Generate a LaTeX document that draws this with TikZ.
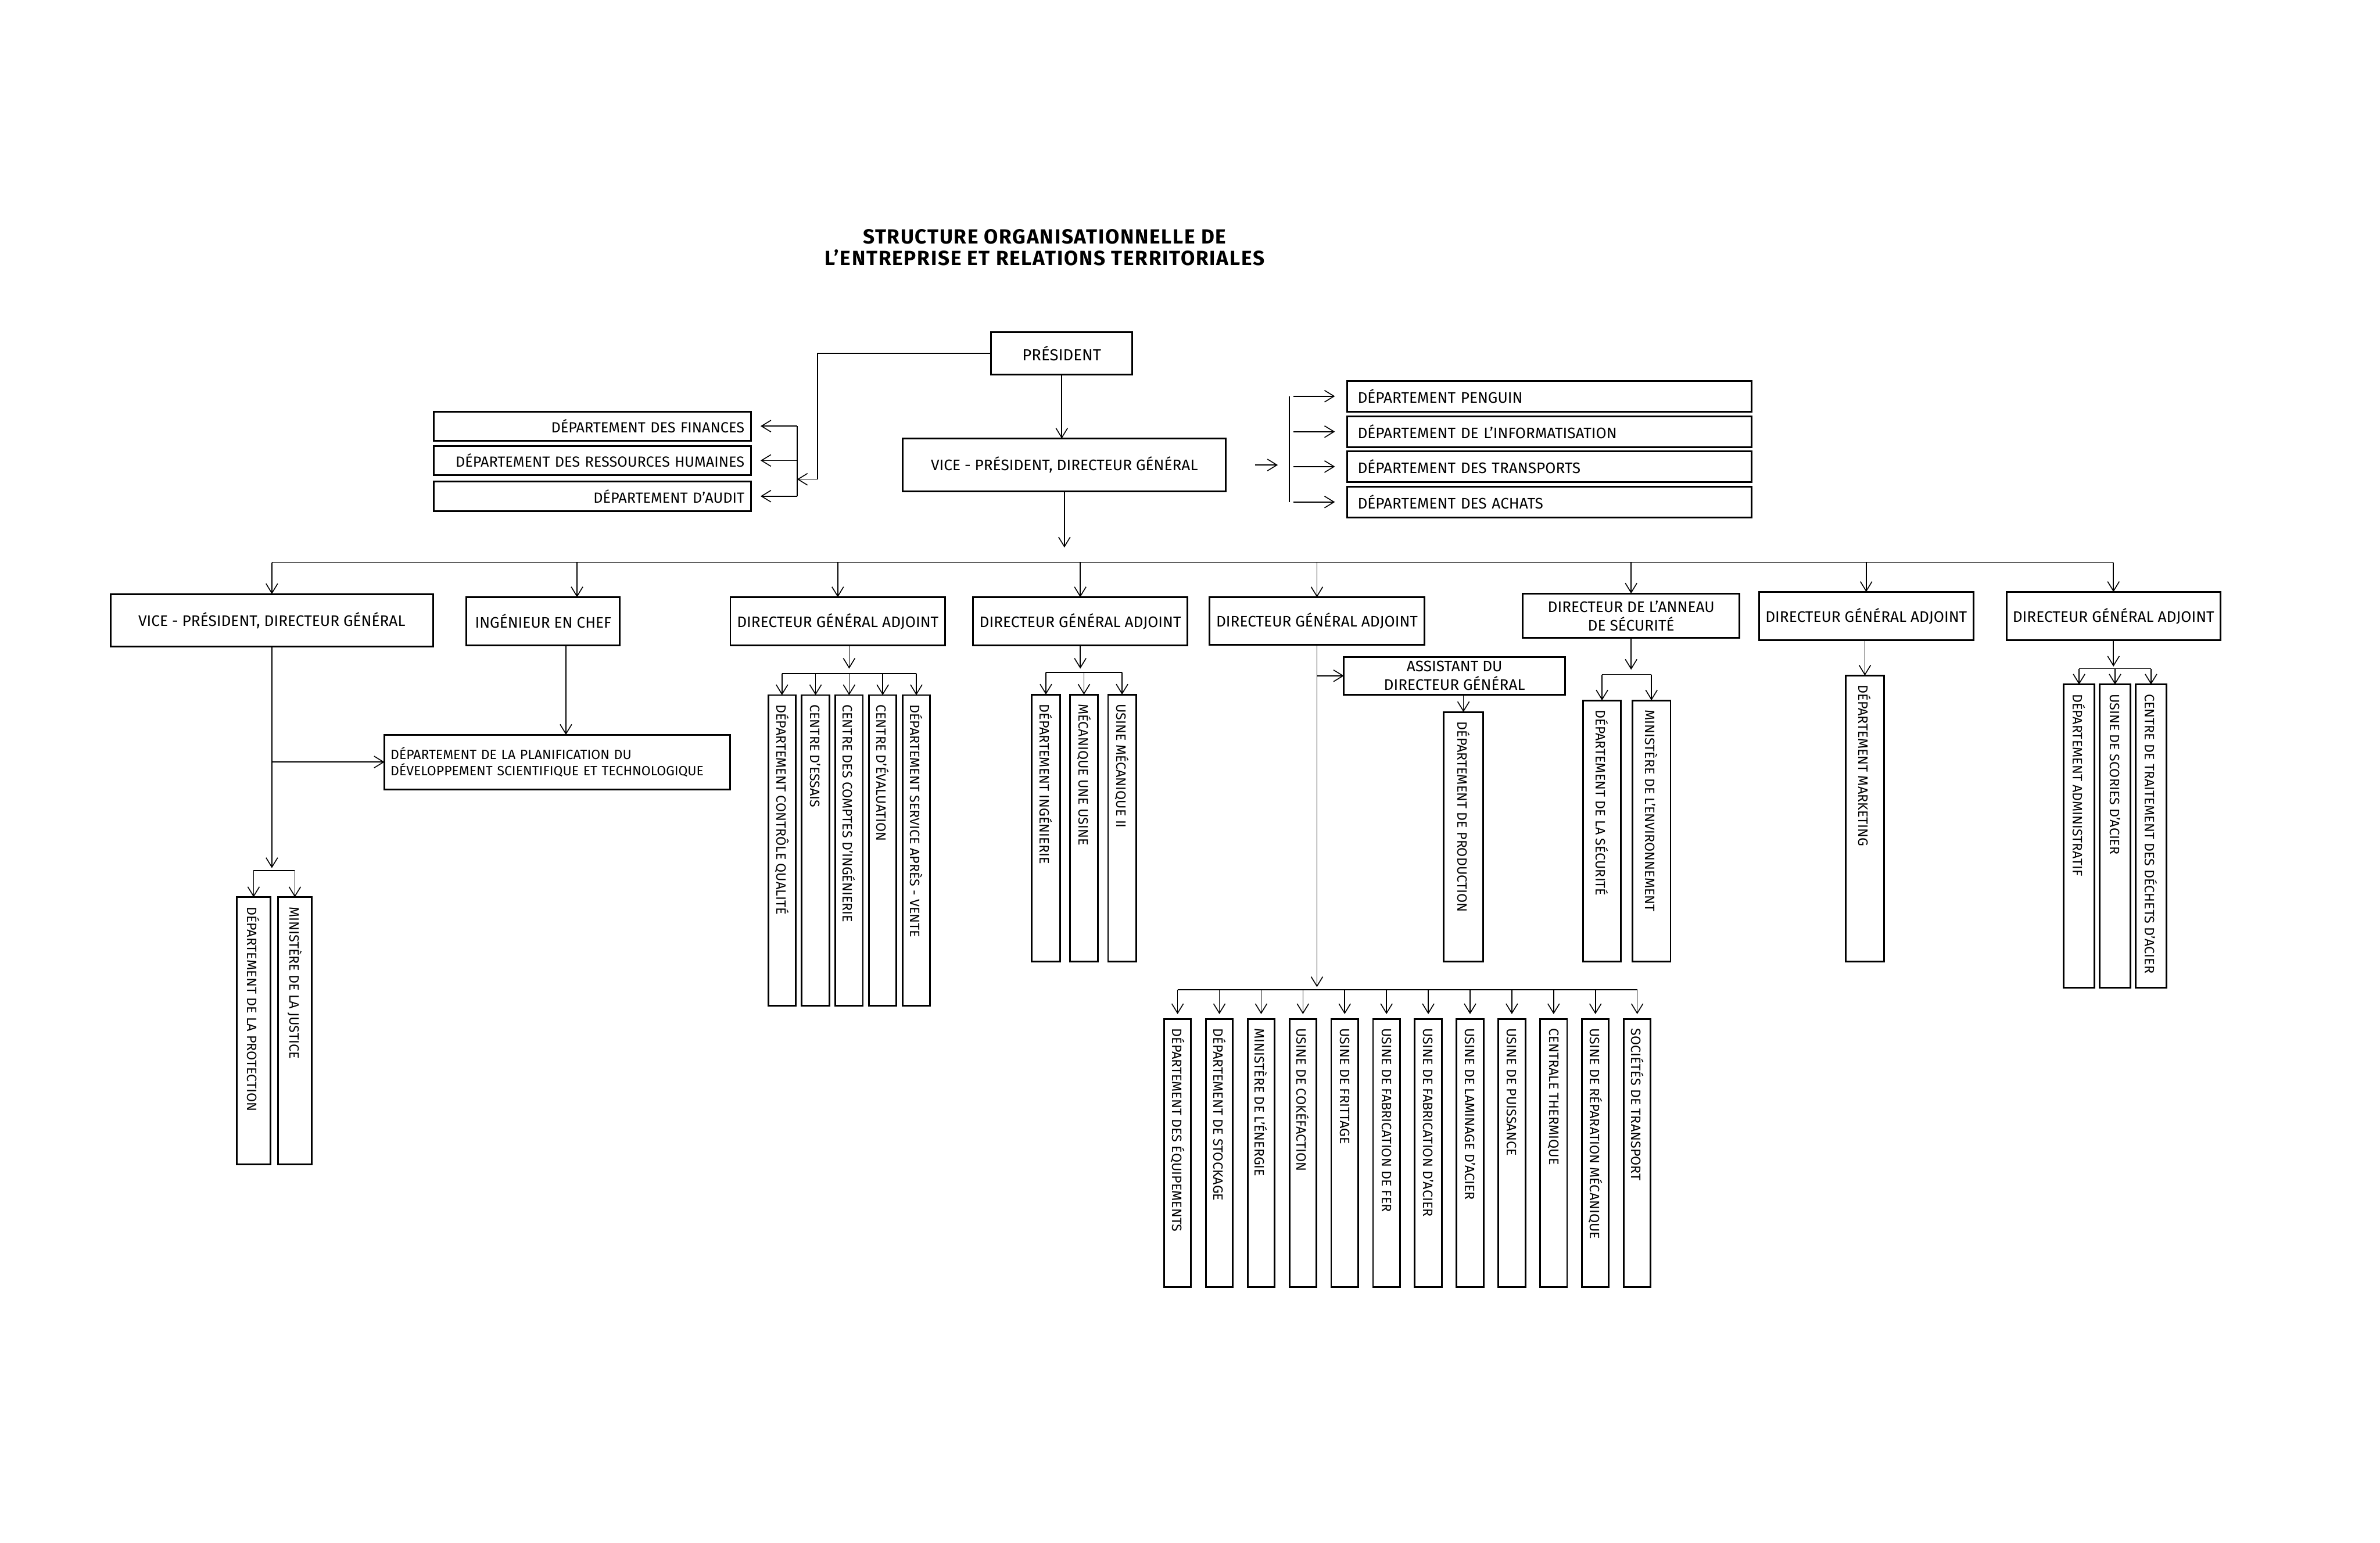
\documentclass[tikz,border=0pt]{standalone}
\usepackage{fontspec}
\setmainfont{Fira Sans}
\usepackage{graphicx}
\usetikzlibrary{arrows.meta, positioning, calc}
\tikzset{
  box/.style={rectangle, draw=black, line width=0.9pt, fill=white, inner sep=0pt, outer sep=0pt,
              align=center, font=\fontsize{8.2}{10}\selectfont},
  chief/.style={box, minimum width=#1, minimum height=0.91cm},
  chief/.default=4.06cm,
  ldept/.style={box, minimum height=#1, text width=5.75cm, inner xsep=0.125cm,
                align=right, font=\fontsize{7.9}{9.5}\selectfont},
  ldept/.default=0.55cm,
  rdept/.style={box, minimum height=0.58cm, text width=7.25cm, inner xsep=0.2cm, align=left},
  vbox/.style={rectangle, draw=black, line width=0.9pt, fill=white, inner xsep=0pt,
               inner ysep=0.18cm, outer sep=0pt, minimum width=#1, anchor=north,
               font=\fontsize{7.3}{8.5}\selectfont},
  vbox/.default=0.52cm,
  arrow/.style={-{Straight Barb[length=1.8mm, width=2.2mm]}, line width=0.5pt},
  link/.style={line width=0.5pt},
}
\newcommand{\vtext}[2]{\rotatebox{-90}{\makebox[#1][l]{#2}}}

\begin{document}
\begin{tikzpicture}
\useasboundingbox (0,0) rectangle (45,-29.16);

% ── Title ─────────────────────────────────────────────────────────────────────
\node[font=\fontsize{11}{11.4}\selectfont\bfseries\addfontfeatures{LetterSpace=5}, align=center]
  (title) at (19.75,-4.68)
  {STRUCTURE ORGANISATIONNELLE DE\\L'ENTREPRISE ET RELATIONS TERRITORIALES};

% ── Top: president and vice-president ─────────────────────────────────────────
\node[box, minimum width=2.67cm, minimum height=0.80cm, font=\fontsize{8.6}{10}\selectfont]
  (pres) at (20.075,-6.68) {PRÉSIDENT};
\node[box, minimum width=6.11cm, minimum height=1.00cm] (vp) at (20.125,-8.79)
  {VICE - PRÉSIDENT, DIRECTEUR GÉNÉRAL};

% ── Departments left of the president ─────────────────────────────────────────
\node[ldept] (fin) at (11.20,-8.055) {DÉPARTEMENT DES FINANCES};
\node[ldept, below=0.10cm of fin] (rh) {DÉPARTEMENT DES RESSOURCES HUMAINES};
\node[ldept=0.56cm, below=0.12cm of rh] (aud) {DÉPARTEMENT D'AUDIT};

% ── Departments right of the vice-president ───────────────────────────────────
\node[rdept] (peng) at (29.295,-7.49) {DÉPARTEMENT PENGUIN};
\node[rdept, below=0.09cm of peng] (info) {DÉPARTEMENT DE L'INFORMATISATION};
\node[rdept, below=0.08cm of info] (trans) {DÉPARTEMENT DES TRANSPORTS};
\node[rdept, below=0.09cm of trans] (ach) {DÉPARTEMENT DES ACHATS};

% ── Second level ──────────────────────────────────────────────────────────────
\node[chief=6.10cm, minimum height=0.99cm] (vp2) at (5.14,-11.725)
  {VICE - PRÉSIDENT, DIRECTEUR GÉNÉRAL};
\node[chief=2.90cm] (ing) at (10.27,-11.745) {INGÉNIEUR EN CHEF};
\node[chief] (dga1) at (15.84,-11.745) {DIRECTEUR GÉNÉRAL ADJOINT};
\node[chief=4.05cm] (dga2) at (20.425,-11.745) {DIRECTEUR GÉNÉRAL ADJOINT};
\node[chief, minimum height=0.90cm] (dga3) at (24.90,-11.74) {DIRECTEUR GÉNÉRAL ADJOINT};
\node[chief=4.10cm, minimum height=0.84cm] (das) at (30.84,-11.64)
  {DIRECTEUR DE L'ANNEAU\\DE SÉCURITÉ};
\node[chief=4.05cm] (dga5) at (35.285,-11.645) {DIRECTEUR GÉNÉRAL ADJOINT};
\node[chief=4.04cm] (dga6) at (39.96,-11.645) {DIRECTEUR GÉNÉRAL ADJOINT};

\node[box, minimum width=6.53cm, minimum height=1.03cm, text width=6.3cm, inner xsep=0.115cm,
      align=left, font=\fontsize{7.2}{9}\selectfont] (planif) at (10.535,-14.405)
  {DÉPARTEMENT DE LA PLANIFICATION DU\\DÉVELOPPEMENT SCIENTIFIQUE ET TECHNOLOGIQUE};
\node[box, minimum width=4.18cm, minimum height=0.71cm] (asst) at (27.50,-12.775)
  {ASSISTANT DU\\DIRECTEUR GÉNÉRAL};

% ── Vertical units ────────────────────────────────────────────────────────────
\node[vbox=0.63cm] (prot) at (4.795,-16.96) {\vtext{4.69cm}{DÉPARTEMENT DE LA PROTECTION}};
\node[vbox=0.63cm, right=0.15cm of prot] (just) {\vtext{4.69cm}{MINISTÈRE DE LA JUSTICE}};

\node[vbox] (c1) at (14.785,-13.14) {\vtext{5.51cm}{DÉPARTEMENT CONTRÔLE QUALITÉ}};
\node[vbox, right=0.115cm of c1] (c2) {\vtext{5.51cm}{CENTRE D'ESSAIS}};
\node[vbox, right=0.115cm of c2] (c3) {\vtext{5.51cm}{CENTRE DES COMPTES D'INGÉNIERIE}};
\node[vbox, right=0.115cm of c3] (c4) {\vtext{5.51cm}{CENTRE D'ÉVALUATION}};
\node[vbox, right=0.115cm of c4] (c5) {\vtext{5.51cm}{DÉPARTEMENT SERVICE APRÈS - VENTE}};

\node[vbox=0.53cm] (d1) at (19.775,-13.13) {\vtext{4.69cm}{DÉPARTEMENT INGÉNIERIE}};
\node[vbox=0.53cm, right=0.19cm of d1] (d2) {\vtext{4.69cm}{MÉCANIQUE UNE USINE}};
\node[vbox=0.53cm, right=0.19cm of d2] (d3) {\vtext{4.69cm}{USINE MÉCANIQUE II}};

\node[vbox=0.74cm] (prod) at (27.67,-13.46) {\vtext{4.36cm}{DÉPARTEMENT DE PRODUCTION}};

\node[vbox=0.72cm] (s1) at (30.29,-13.24) {\vtext{4.58cm}{DÉPARTEMENT DE LA SÉCURITÉ}};
\node[vbox=0.72cm, right=0.215cm of s1] (s2) {\vtext{4.58cm}{MINISTÈRE DE L'ENVIRONNEMENT}};

\node[vbox=0.72cm] (mkt) at (35.26,-12.77) {\vtext{5.05cm}{DÉPARTEMENT MARKETING}};

\node[vbox=0.58cm] (a1) at (39.31,-12.94) {\vtext{5.37cm}{DÉPARTEMENT ADMINISTRATIF}};
\node[vbox=0.58cm, right=0.10cm of a1] (a2) {\vtext{5.37cm}{USINE DE SCORIES D'ACIER}};
\node[vbox=0.58cm, right=0.10cm of a2] (a3) {\vtext{5.37cm}{CENTRE DE TRAITEMENT DES DÉCHETS D'ACIER}};

\node[vbox=0.51cm] (u1) at (22.265,-19.26) {\vtext{4.71cm}{DÉPARTEMENT DES ÉQUIPEMENTS}};
\node[vbox=0.51cm, right=0.28cm of u1] (u2) {\vtext{4.71cm}{DÉPARTEMENT DE STOCKAGE}};
\node[vbox=0.51cm, right=0.28cm of u2] (u3) {\vtext{4.71cm}{MINISTÈRE DE L'ÉNERGIE}};
\node[vbox=0.51cm, right=0.28cm of u3] (u4) {\vtext{4.71cm}{USINE DE COKÉFACTION}};
\node[vbox=0.51cm, right=0.28cm of u4] (u5) {\vtext{4.71cm}{USINE DE FRITTAGE}};
\node[vbox=0.51cm, right=0.28cm of u5] (u6) {\vtext{4.71cm}{USINE DE FABRICATION DE FER}};
\node[vbox=0.51cm, right=0.28cm of u6] (u7) {\vtext{4.71cm}{USINE DE FABRICATION D'ACIER}};
\node[vbox=0.51cm, right=0.28cm of u7] (u8) {\vtext{4.71cm}{USINE DE LAMINAGE D'ACIER}};
\node[vbox=0.51cm, right=0.28cm of u8] (u9) {\vtext{4.71cm}{USINE DE PUISSANCE}};
\node[vbox=0.51cm, right=0.28cm of u9] (u10) {\vtext{4.71cm}{CENTRALE THERMIQUE}};
\node[vbox=0.51cm, right=0.28cm of u10] (u11) {\vtext{4.71cm}{USINE DE RÉPARATION MÉCANIQUE}};
\node[vbox=0.51cm, right=0.28cm of u11] (u12) {\vtext{4.71cm}{SOCIÉTÉS DE TRANSPORT}};

% ── Helper points ─────────────────────────────────────────────────────────────
\coordinate (pl) at (15.46,-9.06);
\coordinate (lb) at (15.07,-9.06);
\coordinate (rb) at (24.38,-8.79);
\coordinate (bus) at (0,-10.63);
\coordinate (bus2) at (0,-18.71);
\coordinate (b0) at (5.14,-16.46);
\coordinate (b1) at (16.055,-12.73);
\coordinate (b2) at (20.425,-12.71);
\coordinate (b3) at (30.84,-12.75);
\coordinate (b4) at (39.96,-12.64);
\coordinate (ingin) at ($(ing.north)+(0.64,0)$);
\coordinate (ingout) at ($(ing.south)+(0.43,0)$);

% ── Arrows: president -> vice-president, left departments ─────────────────────
\draw[arrow] (pres.south) -- (pres.south |- vp.north);
\draw[arrow] (pres.west) -| (pl) -- (lb);
\draw[link] (lb |- fin.east) -- (lb |- aud.east);
\draw[arrow, shorten >=1.8mm] (lb |- fin.east) -- (fin.east);
\draw[arrow, shorten >=1.8mm] (lb |- rh.east) -- (rh.east);
\draw[arrow, shorten >=1.8mm] (lb |- aud.east) -- (aud.east);

% ── Arrows: vice-president -> right departments ───────────────────────────────
\draw[arrow, shorten <=5.5mm, shorten >=2.2mm] (vp.east) -- (rb);
\draw[link] (rb |- peng.west) -- (rb |- ach.west);
\draw[arrow, shorten <=0.7mm, shorten >=2.3mm] (rb |- peng.west) -- (peng.west);
\draw[arrow, shorten <=0.7mm, shorten >=2.3mm] (rb |- info.west) -- (info.west);
\draw[arrow, shorten <=0.7mm, shorten >=2.3mm] (rb |- trans.west) -- (trans.west);
\draw[arrow, shorten <=0.7mm, shorten >=2.3mm] (rb |- ach.west) -- (ach.west);

% ── Arrows: vice-president -> second level ────────────────────────────────────
\draw[arrow, shorten >=2.8mm] (vp.south) -- (bus -| vp.south);
\draw[link] (bus -| vp2.north) -- (bus -| dga6.north);
\draw[arrow] (bus -| vp2.north) -- (vp2.north);
\draw[arrow] (bus -| ingin) -- (ingin);
\draw[arrow] (bus -| dga1.north) -- (dga1.north);
\draw[arrow] (bus -| dga2.north) -- (dga2.north);
\draw[arrow] (bus -| dga3.north) -- (dga3.north);
\draw[arrow] (bus -| das.north) -- (das.north);
\draw[arrow] (bus -| dga5.north) -- (dga5.north);
\draw[arrow] (bus -| dga6.north) -- (dga6.north);

% ── Arrows: second vice-president and chief engineer ──────────────────────────
\draw[arrow, shorten >=0.5mm] (vp2.south) -- (b0);
\draw[arrow] (vp2.south |- planif.west) -- (planif.west);
\draw[link] (b0 -| prot.north) -- (b0 -| just.north);
\draw[arrow] (b0 -| prot.north) -- (prot.north);
\draw[arrow] (b0 -| just.north) -- (just.north);
\draw[arrow] (ingout) -- (ingout |- planif.north);

% ── Arrows: deputies ──────────────────────────────────────────────────────────
\draw[arrow, shorten >=0.9mm] (dga1.south -| b1) -- (b1);
\draw[link] (b1 -| c1.north) -- (b1 -| c5.north);
\draw[arrow] (b1 -| c1.north) -- (c1.north);
\draw[arrow] (b1 -| c2.north) -- (c2.north);
\draw[arrow] (b1 -| c3.north) -- (c3.north);
\draw[arrow] (b1 -| c4.north) -- (c4.north);
\draw[arrow] (b1 -| c5.north) -- (c5.north);

\draw[arrow, shorten >=0.7mm] (dga2.south) -- (b2);
\draw[link] (b2 -| d1.north) -- (b2 -| d3.north);
\draw[arrow] (b2 -| d1.north) -- (d1.north);
\draw[arrow] (b2 -| d2.north) -- (d2.north);
\draw[arrow] (b2 -| d3.north) -- (d3.north);

\draw[arrow, shorten >=0.5mm] (dga3.south) -- (bus2 -| dga3.south);
\draw[arrow] (dga3.south |- asst.west) -- (asst.west);
\draw[arrow] (asst.south -| prod.north) -- (prod.north);
\draw[link] (bus2 -| u1.north) -- (bus2 -| u12.north);
\draw[arrow, shorten >=0.9mm] (bus2 -| u1.north) -- (u1.north);
\draw[arrow, shorten >=0.9mm] (bus2 -| u2.north) -- (u2.north);
\draw[arrow, shorten >=0.9mm] (bus2 -| u3.north) -- (u3.north);
\draw[arrow, shorten >=0.9mm] (bus2 -| u4.north) -- (u4.north);
\draw[arrow, shorten >=0.9mm] (bus2 -| u5.north) -- (u5.north);
\draw[arrow, shorten >=0.9mm] (bus2 -| u6.north) -- (u6.north);
\draw[arrow, shorten >=0.9mm] (bus2 -| u7.north) -- (u7.north);
\draw[arrow, shorten >=0.9mm] (bus2 -| u8.north) -- (u8.north);
\draw[arrow, shorten >=0.9mm] (bus2 -| u9.north) -- (u9.north);
\draw[arrow, shorten >=0.9mm] (bus2 -| u10.north) -- (u10.north);
\draw[arrow, shorten >=0.9mm] (bus2 -| u11.north) -- (u11.north);
\draw[arrow, shorten >=0.9mm] (bus2 -| u12.north) -- (u12.north);

\draw[arrow, shorten >=0.9mm] (das.south) -- (b3);
\draw[link] (b3 -| s1.north) -- (b3 -| s2.north);
\draw[arrow] (b3 -| s1.north) -- (s1.north);
\draw[arrow] (b3 -| s2.north) -- (s2.north);

\draw[arrow] (dga5.south -| mkt.north) -- (mkt.north);

\draw[arrow, shorten >=0.4mm] (dga6.south) -- (b4);
\draw[link] (b4 -| a1.north) -- (b4 -| a3.north);
\draw[arrow] (b4 -| a1.north) -- (a1.north);
\draw[arrow] (b4 -| a2.north) -- (a2.north);
\draw[arrow] (b4 -| a3.north) -- (a3.north);

\end{tikzpicture}
\end{document}
